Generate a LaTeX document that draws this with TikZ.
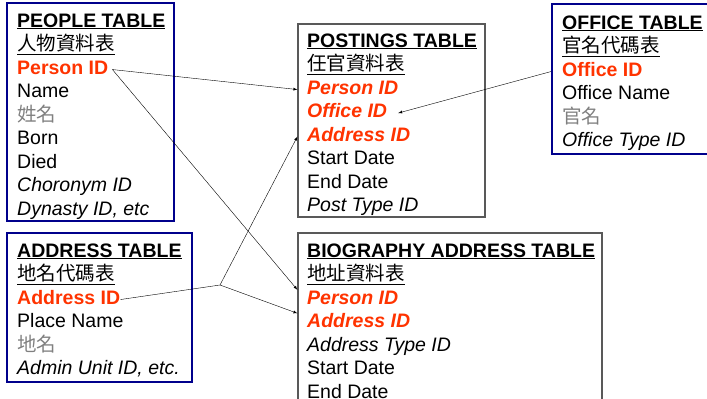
\documentclass[tikz,border=0pt]{standalone}
\usepackage{fontspec}
\setmainfont{Liberation Sans}
\newfontfamily\cjk{Noto Sans CJK TC}
\usetikzlibrary{positioning}
\definecolor{keyred}{RGB}{255,51,0}
\definecolor{tblblue}{RGB}{0,0,140}
\definecolor{zhgray}{RGB}{128,128,128}

\begin{document}
\begin{tikzpicture}[x=1pt, y=-1pt, node distance=4pt,
  tbl/.style={draw=tblblue, line width=2pt, inner sep=0pt},
  link/.style={draw=gray!70!black, line width=1.2pt, inner sep=0pt},
  fld/.style={anchor=north west, inner sep=0pt, text height=14pt, text depth=5.1pt},
  pk/.style={fld, text=keyred, font=\bfseries},
  fk/.style={fld, text=keyred, font=\bfseries\itshape},
  zh/.style={fld, text=zhgray, font=\cjk},
  zhhead/.style={fld, font=\cjk},
  uline/.style={line width=1pt}]
\fontsize{19.5pt}{23pt}\selectfont
\useasboundingbox (0,0) rectangle (707,399);
\clip (0,0) rectangle (707,399);
			\node[tbl, minimum width=167pt, minimum height=218pt] (people) at (90.5,112) {};
			\node[link, minimum width=187pt, minimum height=193pt] (postings) at (391.5,120.5) {};
			\node[tbl, minimum width=168pt, minimum height=150pt] (office) at (636,79) {};
			\node[tbl, minimum width=185pt, minimum height=149pt] (address) at (99.5,307.5) {};
			\node[link, minimum width=304pt, minimum height=177pt] (bio) at (450,321.5) {};
			% people
			\node[fld, anchor=base west] (pplhead) at (17,27) {\bfseries\underline{PEOPLE TABLE}};
			\node[below=of pplhead.south west, zhhead] (pplzh) {人物資料表};
			\node[below=of pplzh.south west, pk] (pplpid) {Person ID};
			\node[below=of pplpid.south west, fld] (pplname) {Name};
			\node[below=of pplname.south west, zh] (pplxm) {姓名};
			\node[below=of pplxm.south west, fld] (pplborn) {Born};
			\node[below=of pplborn.south west, fld] (ppldied) {Died};
			\node[below=of ppldied.south west, fld, font=\itshape] (pplchor) {Choronym ID};
			\node[below=of pplchor.south west, fld, font=\itshape] (ppldyn) {Dynasty ID, etc};
			% postings
			\node[fld, anchor=base west] (psthead) at (307,47) {\bfseries\underline{POSTINGS TABLE}};
			\node[below=of psthead.south west, zhhead] (pstzh) {任官資料表};
			\node[below=of pstzh.south west, fk] (pstpid) {Person ID};
			\node[below=of pstpid.south west, fk] (pstoid) {Office ID};
			\node[below=of pstoid.south west, fk] (pstaid) {Address ID};
			\node[below=of pstaid.south west, fld] (pststart) {Start Date};
			\node[below=of pststart.south west, fld] (pstend) {End Date};
			\node[below=of pstend.south west, fld, font=\itshape] (psttype) {Post Type ID};
			% office
			\node[fld, anchor=base west] (offhead) at (562,29) {\bfseries\underline{OFFICE TABLE}};
			\node[below=of offhead.south west, zhhead] (offzh) {官名代碼表};
			\node[below=of offzh.south west, pk] (offoid) {Office ID};
			\node[below=of offoid.south west, fld] (offname) {Office Name};
			\node[below=of offname.south west, zh] (offgm) {官名};
			\node[below=of offgm.south west, fld, font=\itshape] (offtype) {Office Type ID};
			% address
			\node[fld, anchor=base west] (addhead) at (17,257) {\bfseries\underline{ADDRESS TABLE}};
			\node[below=of addhead.south west, zhhead] (addzh) {地名代碼表};
			\node[below=of addzh.south west, pk] (addaid) {Address ID};
			\node[below=of addaid.south west, fld] (addplace) {Place Name};
			\node[below=of addplace.south west, zh] (adddm) {地名};
			\node[below=of adddm.south west, fld, font=\itshape] (addunit) {Admin Unit ID, etc.};
			% biography address
			\node[fld, anchor=base west] (biohead) at (307,257) {\bfseries\underline{BIOGRAPHY ADDRESS TABLE}};
			\node[below=of biohead.south west, zhhead] (biozh) {地址資料表};
			\node[below=of biozh.south west, fk] (biopid) {Person ID};
			\node[below=of biopid.south west, fk] (bioaid) {Address ID};
			\node[below=of bioaid.south west, fld, font=\itshape] (biotype) {Address Type ID};
			\node[below=of biotype.south west, fld] (biostart) {Start Date};
			\node[below=of biostart.south west, fld] (bioend) {End Date};
			% underlines of the chinese titles
			\draw[uline] ([yshift=-4pt]pplzh.base west) -- ([yshift=-4pt]pplzh.base east);
			\draw[uline] ([yshift=-4pt]pstzh.base west) -- ([yshift=-4pt]pstzh.base east);
			\draw[uline] ([yshift=-4pt]offzh.base west) -- ([yshift=-4pt]offzh.base east);
			\draw[uline] ([yshift=-4pt]addzh.base west) -- ([yshift=-4pt]addzh.base east);
			\draw[uline] ([yshift=-4pt]biozh.base west) -- ([yshift=-4pt]biozh.base east);
			% links
			\coordinate (fork) at (220,285);
			\draw[-latex] ([xshift=4pt]pplpid.east) -- (pstpid.west -| postings.west);
			\draw[-latex] ([xshift=4pt]pplpid.east) -- (biopid.north west -| bio.west);
			\draw (addaid.east) -- (fork);
			\draw[-latex] (fork) -- (pstaid.west -| postings.west);
			\draw[-latex] (fork) -- (bioaid.north west -| bio.west);
			\draw[-latex] (offoid.west -| office.west) -- ([xshift=11pt]pstoid.east);
		\end{tikzpicture}
\end{document}
